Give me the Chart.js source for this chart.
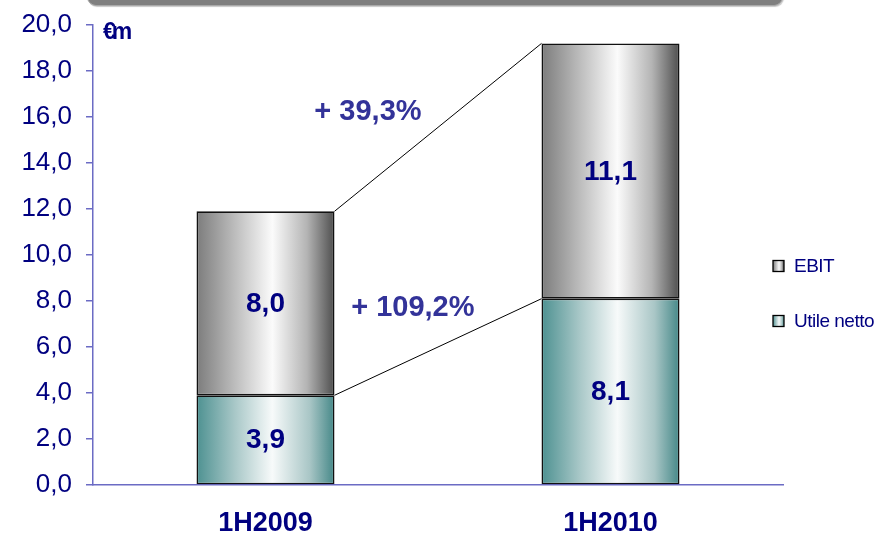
<!DOCTYPE html>
<html>
<head>
<meta charset="utf-8">
<script src="https://cdn.jsdelivr.net/npm/chart.js@4.4.0/dist/chart.umd.min.js"></script>
<style>
    html, body { margin: 0; padding: 0; background: #fff; overflow: hidden; }
    #wrap { position: relative; width: 888px; height: 534px; }
    #topBar {
        position: absolute; left: 87px; top: -20px; width: 694px; height: 24px;
        background: #7f7f7f; border: 1px solid #a9a9a9; border-radius: 9px;
        box-shadow: 1px 1px 1px #c8c8c8;
    }
</style>
</head>
<body>
<div id="wrap">
    <canvas id="chart" width="888" height="534"></canvas>
    <div id="topBar"></div>
</div>
<script>
const categories = ['1H2009', '1H2010'];
const utileNetto = [3.9, 8.1];
const ebit = [8.0, 11.1];
const yTicks = [0, 2, 4, 6, 8, 10, 12, 14, 16, 18, 20];
const growthLabels = ['+ 39,3%', '+ 109,2%'];
const unitLabel = '€m';

const NAVY = '#000080';
const AXIS = '#6b6bc4';
const FONT = "'Liberation Sans', Arial, sans-serif";
const BAR_PCT = 0.4;

const fmt = v => v.toFixed(1).replace('.', ',');

// horizontal cylinder-like shading across each bar
function barGradient(stops) {
    return ctx => {
        const chart = ctx.chart;
        const area = chart.chartArea;
        if (!area || !chart.scales.x) return stops[0][1];
        const x = chart.scales.x.getPixelForValue(ctx.dataIndex);
        const half = (area.right - area.left) / categories.length * BAR_PCT / 2;
        const g = chart.ctx.createLinearGradient(x - half, 0, x + half, 0);
        stops.forEach(([p, c]) => g.addColorStop(p, c));
        return g;
    };
}

const ebitStops = [[0, '#7c7c7c'], [0.28, '#bdbdbd'], [0.55, '#fbfbfb'], [0.8, '#b4b4b4'], [1, '#4e4e4e']];
const utileStops = [[0, '#4d9191'], [0.28, '#a9c8c8'], [0.55, '#f7fafa'], [0.82, '#a9c6c6'], [1, '#458888']];

const extras = {
    id: 'extras',
    afterDatasetsDraw(chart) {
        const { ctx, scales: { x, y } } = chart;
        const lower = chart.getDatasetMeta(0).data;
        const upper = chart.getDatasetMeta(1).data;

        // connector lines between the two bars
        ctx.save();
        ctx.strokeStyle = '#000';
        ctx.lineWidth = 1;
        [lower, upper].forEach(bars => {
            const a = bars[0], b = bars[1];
            ctx.beginPath();
            ctx.moveTo(a.x + a.width / 2, a.y);
            ctx.lineTo(b.x - b.width / 2, b.y);
            ctx.stroke();
        });

        // values inside the segments
        ctx.fillStyle = NAVY;
        ctx.font = 'bold 28px ' + FONT;
        ctx.textAlign = 'center';
        ctx.textBaseline = 'middle';
        [lower, upper].forEach((bars, di) => {
            const vals = chart.data.datasets[di].data;
            bars.forEach((bar, i) => {
                ctx.fillText(fmt(vals[i]), bar.x, (bar.y + bar.base) / 2 + 1);
            });
        });

        // growth percentages
        ctx.fillStyle = '#333399';
        ctx.font = 'bold 29px ' + FONT;
        ctx.fillText(growthLabels[0], x.getPixelForValue(0.297), y.getPixelForValue(16.2));
        ctx.fillText(growthLabels[1], x.getPixelForValue(0.427), y.getPixelForValue(7.7));

        // unit label
        ctx.fillStyle = NAVY;
        ctx.font = 'bold 23px ' + FONT;
        ctx.textAlign = 'left';
        ctx.letterSpacing = '-4px';
        ctx.fillText(unitLabel, chart.chartArea.left + 10, y.getPixelForValue(19.65));
        ctx.restore();

        // legend, EBIT on top
        ctx.save();
        const items = [
            { text: chart.data.datasets[1].label, stops: ebitStops, y: 266 },
            { text: chart.data.datasets[0].label, stops: utileStops, y: 321 }
        ];
        const lx = chart.chartArea.right - 10;
        items.forEach(it => {
            const g = ctx.createLinearGradient(lx, 0, lx + 11, 0);
            it.stops.forEach(([p, c]) => g.addColorStop(p, c));
            ctx.fillStyle = g;
            ctx.fillRect(lx, it.y - 5.5, 11, 11);
            ctx.strokeStyle = '#000';
            ctx.lineWidth = 1.3;
            ctx.strokeRect(lx, it.y - 5.5, 11, 11);
            ctx.fillStyle = NAVY;
            ctx.font = '19px ' + FONT;
            ctx.textAlign = 'left';
            ctx.textBaseline = 'middle';
            ctx.letterSpacing = '-0.5px';
            ctx.fillText(it.text, lx + 21, it.y + 1);
        });
        ctx.restore();
    }
};

new Chart(document.getElementById('chart'), {
    type: 'bar',
    data: {
        labels: categories,
        datasets: [
            {
                label: 'Utile netto',
                data: utileNetto,
                backgroundColor: barGradient(utileStops),
                borderColor: '#111',
                borderWidth: 1.6,
                borderSkipped: false
            },
            {
                label: 'EBIT',
                data: ebit,
                backgroundColor: barGradient(ebitStops),
                borderColor: '#111',
                borderWidth: 1.6,
                borderSkipped: false
            }
        ]
    },
    options: {
        responsive: false,
        animation: false,
        devicePixelRatio: 1,
        layout: { padding: { top: 25, right: 105, left: 0, bottom: 0 } },
        datasets: { bar: { barPercentage: BAR_PCT, categoryPercentage: 1 } },
        plugins: {
            legend: { display: false },
            tooltip: { enabled: false }
        },
        scales: {
            x: {
                stacked: true,
                grid: { display: false, drawTicks: false },
                border: { display: true, color: AXIS, width: 1.5 },
                ticks: {
                    color: NAVY,
                    font: { family: FONT, size: 27, weight: 'bold' },
                    padding: 22
                },
                afterFit: scale => {
                    scale.height = 49;
                    scale.paddingLeft = 0;
                    scale.paddingRight = 0;
                }
            },
            y: {
                stacked: true,
                min: 0,
                max: 20,
                afterBuildTicks: scale => { scale.ticks = yTicks.map(v => ({ value: v })); },
                grid: { display: true, drawOnChartArea: false, drawTicks: true, tickLength: 7, color: AXIS, lineWidth: 1.5 },
                border: { display: true, color: AXIS, width: 1.5 },
                ticks: {
                    color: NAVY,
                    font: { family: FONT, size: 26 },
                    padding: 14,
                    callback: v => fmt(v)
                },
                afterFit: scale => {
                    scale.width = 93;
                    scale.paddingTop = 0;
                    scale.paddingBottom = 0;
                }
            }
        }
    },
    plugins: [extras]
});
</script>
</body>
</html>
